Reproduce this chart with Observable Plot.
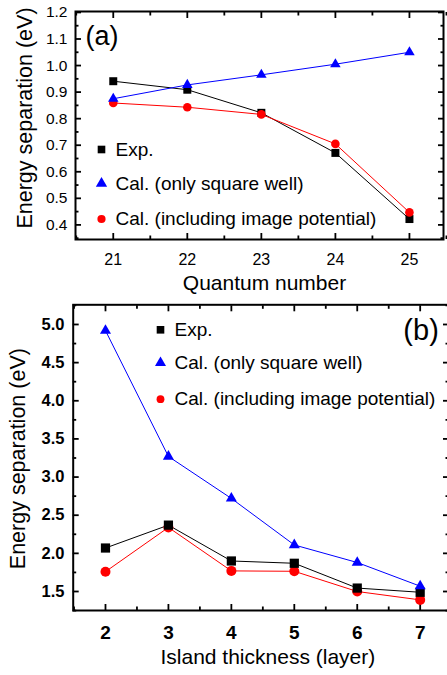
<!DOCTYPE html>
<html>
<head>
<meta charset="utf-8">
<script src="https://cdn.jsdelivr.net/npm/d3@7"></script>
<script src="https://cdn.jsdelivr.net/npm/@observablehq/plot@0.6"></script>
<style>
  html, body { margin: 0; padding: 0; background: #fff; overflow: hidden; width: 447px; height: 675px; }
  #a, #b { width: 447px; overflow: hidden; }
  text { font-family: "Liberation Sans", Arial, Helvetica, sans-serif; }
</style>
</head>
<body>
<div id="a"></div>
<div id="b"></div>
<script>
// ---------- Data: panel (a) ----------
const quantumNumber = [21, 22, 23, 24, 25];
const expA = [0.941, 0.909, 0.822, 0.671, 0.422];
const squareWellA = [0.875, 0.927, 0.965, 1.005, 1.05];
const imagePotA = [0.859, 0.843, 0.816, 0.705, 0.447];
const xTicksA = [21, 22, 23, 24, 25];
const yTicksA = [0.4, 0.5, 0.6, 0.7, 0.8, 0.9, 1.0, 1.1, 1.2];

// ---------- Data: panel (b) ----------
const islandThickness = [2, 3, 4, 5, 6, 7];
const expB = [2.07, 2.37, 1.90, 1.87, 1.545, 1.49];
const squareWellB = [4.92, 3.27, 2.72, 2.11, 1.88, 1.57];
const imagePotB = [1.76, 2.34, 1.77, 1.765, 1.50, 1.39];
const xTicksB = [2, 3, 4, 5, 6, 7];
const yTicksB = [1.5, 2.0, 2.5, 3.0, 3.5, 4.0, 4.5, 5.0];

const legendLabels = ["Exp.", "Cal. (only square well)", "Cal. (including image potential)"];
const seriesColors = ["#000000", "#0000ff", "#ff0000"];
const seriesSymbols = ["square", "triangle", "circle"];

const FONT = '"Liberation Sans", Arial, Helvetica, sans-serif';

function rows(xs, ys) { return xs.map((x, i) => ({x, y: ys[i]})); }

function frameAxes(xMajor, xMinor, yMajor, yMinor, sw) {
  const M = 6, m = 3.5;
  const common = {label: null, tickFormat: () => "", strokeWidth: sw};
  return [
    Plot.axisX(xMajor, {...common, anchor: "bottom", tickSize: M, dy: -M}),
    Plot.axisX(xMinor, {...common, anchor: "bottom", tickSize: m, dy: -m}),
    Plot.axisX(xMajor, {...common, anchor: "top", tickSize: M, dy: M}),
    Plot.axisX(xMinor, {...common, anchor: "top", tickSize: m, dy: m}),
    Plot.axisY(yMajor, {...common, anchor: "left", tickSize: M, dx: M}),
    Plot.axisY(yMinor, {...common, anchor: "left", tickSize: m, dx: m}),
    Plot.axisY(yMajor, {...common, anchor: "right", tickSize: M, dx: -M}),
    Plot.axisY(yMinor, {...common, anchor: "right", tickSize: m, dx: -m}),
    Plot.frame({stroke: "#000", strokeWidth: 2})
  ];
}

function legendMarks(mx, tx, dys, radii) {
  const out = [];
  legendLabels.forEach((lab, i) => {
    out.push(Plot.dot([lab], {frameAnchor: "top-left", dx: mx, dy: dys[i], symbol: seriesSymbols[i], r: radii[i], fill: seriesColors[i], stroke: "none"}));
    out.push(Plot.text([lab], {frameAnchor: "top-left", dx: tx, dy: dys[i], text: d => d, textAnchor: "start", lineAnchor: "middle", fontSize: 19, fill: "#000"}));
  });
  return out;
}

// ---------- Panel (a) ----------
const dA = [rows(quantumNumber, expA), rows(quantumNumber, squareWellA), rows(quantumNumber, imagePotA)];
const plotA = Plot.plot({
  width: 447, height: 300,
  marginLeft: 75, marginRight: 4, marginTop: 11, marginBottom: 61,
  x: {domain: [20.49, 25.46], label: null},
  y: {domain: [0.345, 1.2035], label: null},
  style: {fontFamily: FONT, background: "#fff", maxWidth: "none", display: "block"},
  marks: [
    ...frameAxes(xTicksA, d3.range(20.5, 25.6, 0.5).filter(v => !Number.isInteger(v)),
                 yTicksA, d3.range(0.35, 1.2, 0.1).map(v => +v.toFixed(2)), 1.8),
    Plot.axisX(xTicksA, {anchor: "bottom", tickSize: 0, tickPadding: 14, label: null, fontSize: 16, tickFormat: d => String(d)}),
    Plot.axisY(yTicksA, {anchor: "left", tickSize: 0, tickPadding: 8, label: null, fontSize: 15.5, tickFormat: d3.format(".1f")}),
    Plot.line(dA[0], {x: "x", y: "y", stroke: seriesColors[0], strokeWidth: 1}),
    Plot.line(dA[1], {x: "x", y: "y", stroke: seriesColors[1], strokeWidth: 1}),
    Plot.line(dA[2], {x: "x", y: "y", stroke: seriesColors[2], strokeWidth: 1}),
    Plot.dot(dA[0], {x: "x", y: "y", symbol: "square", r: 4.5, fill: seriesColors[0], stroke: "none"}),
    Plot.dot(dA[2], {x: "x", y: "y", symbol: "circle", r: 4.3, fill: seriesColors[2], stroke: "none"}),
    Plot.dot(dA[1], {x: "x", y: "y", symbol: "triangle", r: 3.9, fill: seriesColors[1], stroke: "none"}),
    ...legendMarks(26, 40, [138, 172, 207.5], [4.3, 4.2, 4.1]),
    Plot.text(["(a)"], {frameAnchor: "top-left", dx: 10, dy: 33.5, textAnchor: "start", lineAnchor: "bottom", fontSize: 27}),
    Plot.text(["Quantum number"], {frameAnchor: "bottom", dx: 5, dy: 50, textAnchor: "middle", lineAnchor: "bottom", fontSize: 21}),
    Plot.text(["Energy separation (eV)"], {frameAnchor: "left", dx: -43.3, dy: -7.5, rotate: -90, textAnchor: "middle", lineAnchor: "bottom", fontSize: 21.5})
  ]
});
document.getElementById("a").appendChild(plotA);

// ---------- Panel (b) ----------
const dB = [rows(islandThickness, expB), rows(islandThickness, squareWellB), rows(islandThickness, imagePotB)];
const plotB = Plot.plot({
  width: 449, height: 375,
  marginLeft: 72.7, marginRight: 1, marginTop: 4.3, marginBottom: 65,
  x: {domain: [1.487, 7.45], label: null},
  y: {domain: [1.251, 5.258], label: null},
  style: {fontFamily: FONT, background: "#fff", maxWidth: "none", display: "block"},
  marks: [
    ...frameAxes(xTicksB, d3.range(1.5, 7.5, 1),
                 yTicksB, d3.range(1.25, 5.26, 0.5).map(v => +v.toFixed(2)), 1.8),
    Plot.axisX(xTicksB, {anchor: "bottom", tickSize: 0, tickPadding: 15, label: null, fontSize: 19, fontWeight: "bold", tickFormat: d => String(d)}),
    Plot.axisY(yTicksB, {anchor: "left", tickSize: 0, tickPadding: 8.7, label: null, fontSize: 16.5, fontWeight: "bold", tickFormat: d3.format(".1f")}),
    Plot.line(dB[1], {x: "x", y: "y", stroke: seriesColors[1], strokeWidth: 1}),
    Plot.line(dB[2], {x: "x", y: "y", stroke: seriesColors[2], strokeWidth: 1}),
    Plot.line(dB[0], {x: "x", y: "y", stroke: seriesColors[0], strokeWidth: 1}),
    Plot.dot(dB[2], {x: "x", y: "y", symbol: "circle", r: 5, fill: seriesColors[2], stroke: "none"}),
    Plot.dot(dB[0], {x: "x", y: "y", symbol: "square", r: 5.2, fill: seriesColors[0], stroke: "none"}),
    Plot.dot(dB[1], {x: "x", y: "y", symbol: "triangle", r: 4.1, fill: seriesColors[1], stroke: "none"}),
    ...legendMarks(87.3, 101.3, [25, 58, 94.4], [4.3, 4.1, 3.9]),
    Plot.text(["(b)"], {frameAnchor: "top-right", dx: -9.7, dy: 34.7, textAnchor: "end", lineAnchor: "bottom", fontSize: 29}),
    Plot.text(["Island thickness (layer)"], {frameAnchor: "bottom", dx: 7, dy: 53, textAnchor: "middle", lineAnchor: "bottom", fontSize: 21}),
    Plot.text(["Energy separation (eV)"], {frameAnchor: "left", dx: -47.7, dy: 1, rotate: -90, textAnchor: "middle", lineAnchor: "bottom", fontSize: 21.5})
  ]
});
document.getElementById("b").appendChild(plotB);
</script>
</body>
</html>
